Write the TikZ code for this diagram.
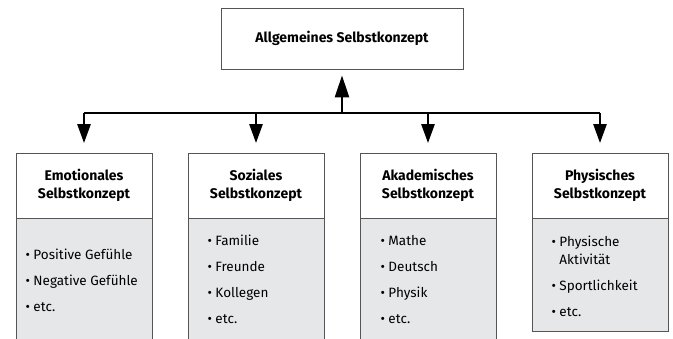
\documentclass[tikz,border=0pt]{standalone}
\usepackage{fontspec}
\setmainfont{Fira Sans}
\usetikzlibrary{arrows.meta}
\definecolor{rahmen}{HTML}{555555}
\definecolor{grau}{HTML}{E6E7E9}
\tikzset{
	kopfbox/.style={draw=rahmen, line width=0.8pt, fill=white, minimum width=136pt, minimum height=65pt, align=center, font=\bfseries\fontsize{14}{18}\selectfont},
	rumpfbox/.style={draw=rahmen, line width=0.8pt, fill=grau, minimum width=136pt, anchor=north},
	liste/.style={anchor=west, align=left, font=\fontsize{13.5}{18}\selectfont},
	pfeil/.style={-{Triangle[length=19pt,width=13pt]}, line width=2.6pt},
}
\begin{document}
\begin{tikzpicture}[x=1pt, y=-1pt]
		\clip (0,0) rectangle (673,338);
		\node[draw=rahmen, line width=0.8pt, minimum width=242pt, minimum height=61pt, font=\bfseries\fontsize{14}{16}\selectfont] (allgemein) at (342,38.5) {Allgemeines Selbstkonzept};
		% Kopf der vier Teilkonzepte
		\node[kopfbox] (emo) at (84,185.5) {Emotionales\\Selbstkonzept};
		\node[kopfbox] (soz) at (256,185.5) {Soziales\\Selbstkonzept};
		\node[kopfbox] (aka) at (428,185.5) {Akademisches\\Selbstkonzept};
		\node[kopfbox] (phy) at (600,185.5) {Physisches\\Selbstkonzept};
		% graue Felder
		\node[rumpfbox, minimum height=125pt] (emoR) at (emo.south) {};
		\node[rumpfbox, minimum height=125pt] (sozR) at (soz.south) {};
		\node[rumpfbox, minimum height=125pt] (akaR) at (aka.south) {};
		\node[rumpfbox, minimum height=113pt] (phyR) at (phy.south) {};
		\node[liste] (emoL) at (22,280) {• Positive Gefühle\\[8pt]• Negative Gefühle\\[8pt]• etc.};
		\node[liste] (sozL) at (204,279.5) {• Familie\\[8pt]• Freunde\\[8pt]• Kollegen\\[8pt]• etc.};
		\node[liste] (akaL) at (377,279.5) {• Mathe\\[8pt]• Deutsch\\[8pt]• Physik\\[8pt]• etc.};
		\node[liste] (phyL) at (548,276) {• Physische\\\hphantom{• }Aktivität\\[8pt]• Sportlichkeit\\[8pt]• etc.};
		% Verbindungen
		\coordinate (mitte) at (342,113);
		\draw[line width=2.6pt] (emo.north |- mitte) -- (phy.north |- mitte);
		\draw[pfeil, -{Triangle[length=22pt,width=14pt]}, shorten >=6pt] (mitte) -- (allgemein.south);
		\draw[pfeil, shorten >=9.5pt] (emo.north |- mitte) -- (emo.north);
		\draw[pfeil, shorten >=9.5pt] (soz.north |- mitte) -- (soz.north);
		\draw[pfeil, shorten >=9.5pt] (aka.north |- mitte) -- (aka.north);
		\draw[pfeil, shorten >=9.5pt] (phy.north |- mitte) -- (phy.north);
		\end{tikzpicture}
\end{document}
